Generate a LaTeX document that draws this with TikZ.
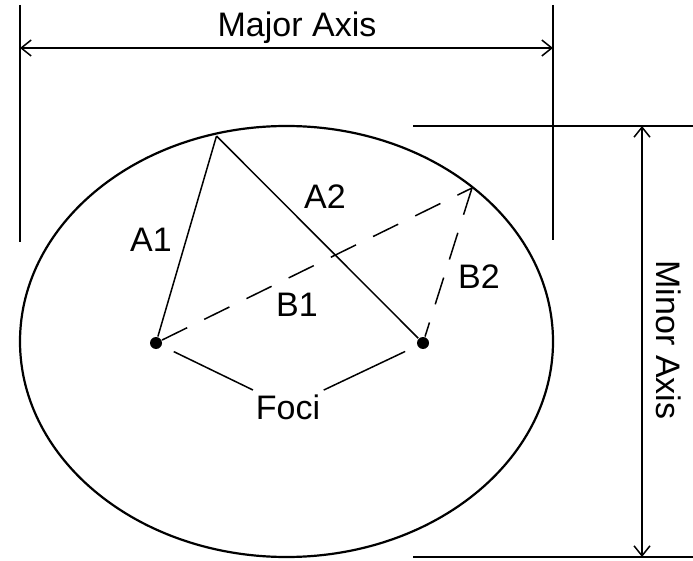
\documentclass[tikz,border=0pt]{standalone}
\usepackage{fontspec}
\setmainfont{Liberation Sans}
\usetikzlibrary{arrows.meta}
\tikzset{dim/.style={{Straight Barb[length=10pt,width=16pt]}-{Straight Barb[length=10pt,width=16pt]}},
  lbl/.style={inner sep=2pt},dot/.style={circle,fill,inner sep=0pt,minimum size=12pt},
  tofoci/.style={shorten <=13pt,shorten >=4pt}}
\begin{document}
\begin{tikzpicture}[x=1pt,y=-1pt,line width=1.5pt,every node/.style={font=\fontsize{34}{40}\selectfont}]
\useasboundingbox (0,0) rectangle (693,561);
\draw[line width=2.2pt] (286.5,341.5) ellipse [x radius=266.5,y radius=215.5];
\coordinate (e1) at (20,5);\coordinate (e2) at (20,242);\coordinate (e3) at (553,5);\coordinate (e4) at (553,240);
\coordinate (t1) at (413,126);\coordinate (t2) at (693,126);\coordinate (b1) at (413,557);\coordinate (b2) at (693,557);
\coordinate (j1) at (20,48);\coordinate (j2) at (553,48);\coordinate (m1) at (642,126);\coordinate (m2) at (642,557);
\coordinate (p) at (216.5,136);\coordinate (q) at (472,188);
\node[dot] (f1) at (156,343) {};\node[dot] (f2) at (423,343) {};
\node[lbl,anchor=base] (major) at (297,37) {Major Axis};
\node[lbl,rotate=-90] (minor) at (669,340) {Minor Axis};
\node[lbl] (a1) at (151,240) {A1};\node[lbl] (a2) at (325,197) {A2};
\node[lbl] (b1l) at (297,305) {B1};\node[lbl] (b2l) at (479,277) {B2};
\node[lbl] (foci) at (288,407) {Foci};
\draw (e1)--(e2) (e3)--(e4) (t1)--(t2) (b1)--(b2);
\draw[dim] (j1)--(j2);\draw[dim] (m1)--(m2);
\draw (f1)--(p) (p)--(f2);
\draw[dash pattern=on 28pt off 19pt] (f1)--(q) (q)--(f2);
\draw[tofoci] (f1)--(foci);\draw[tofoci] (f2)--(foci);
\end{tikzpicture}
\end{document}
